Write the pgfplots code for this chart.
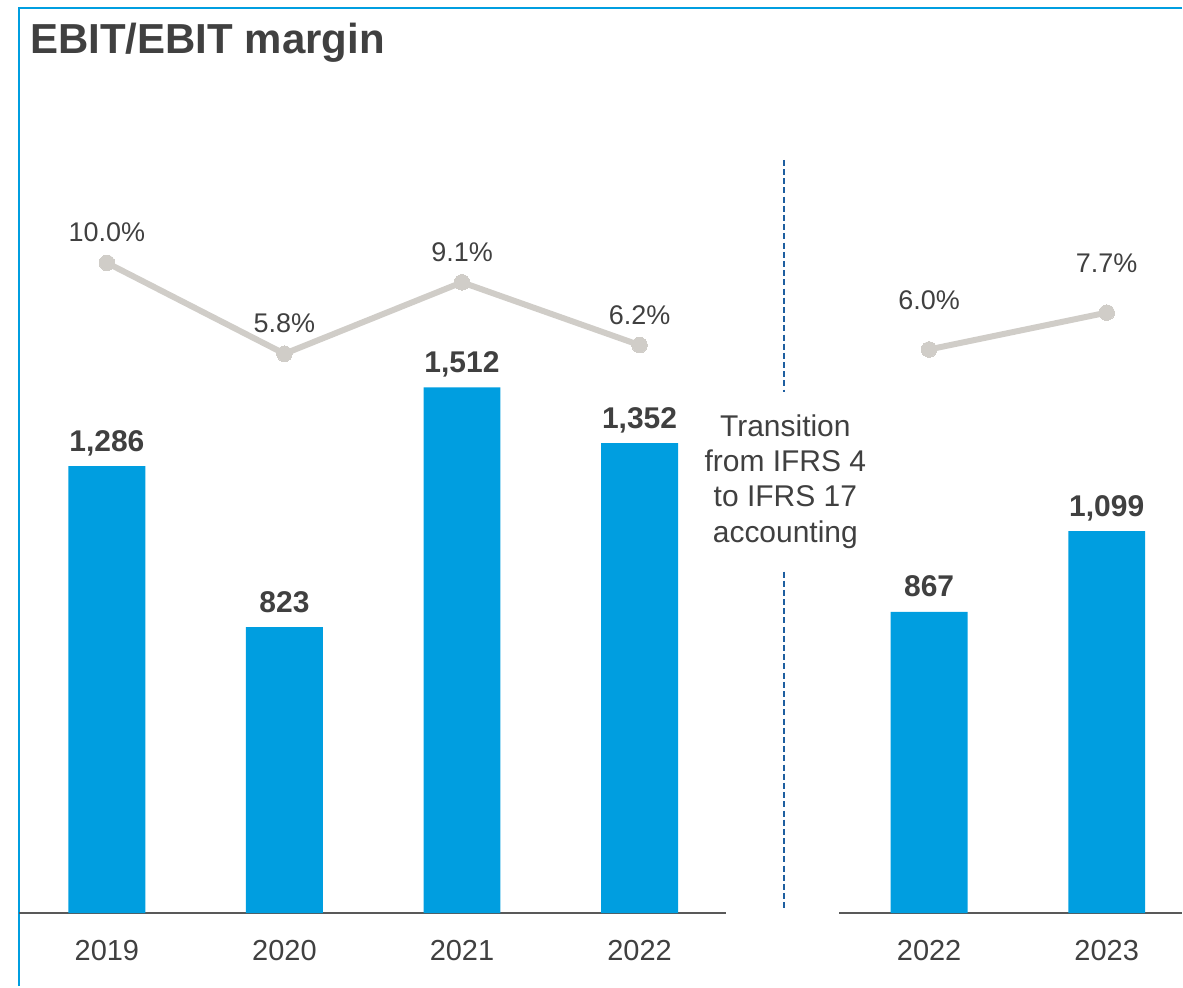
\documentclass[border=0pt]{standalone}
\usepackage{pgfplots}
\pgfplotsset{compat=1.18}
\usepackage{fontspec}
\setmainfont{Liberation Sans}
\definecolor{ebitblue}{RGB}{0,158,224}
\definecolor{linegray}{RGB}{208,205,200}
\definecolor{textgray}{RGB}{64,64,64}
\definecolor{basegray}{RGB}{89,89,89}
\definecolor{dashblue}{RGB}{30,95,160}
\begin{document}
\begin{tikzpicture}
\path (0,0) rectangle (591.5pt,-493.5pt);
% frame
\draw[ebitblue, line width=1pt] (9.5pt,-493.5pt) -- (9.5pt,-4pt) -- (591.5pt,-4pt);
% title
\node[anchor=base west, inner sep=0pt, text=textgray, font=\fontsize{21}{25}\selectfont\bfseries] at (15pt,-26.8pt) {EBIT/EBIT margin};
% divider
\draw[dashblue, line width=1.1pt, dash pattern=on 3pt off 1.6pt] (392.5pt,-80pt) -- (392.5pt,-196pt);
\draw[dashblue, line width=1.1pt, dash pattern=on 3pt off 1.6pt] (392.5pt,-286pt) -- (392.5pt,-456pt);
\node[align=center, text=textgray, font=\fontsize{15}{17.6}\selectfont] at (393pt,-241pt) {Transition\\from IFRS 4\\to IFRS 17\\accounting};

\pgfplotsset{
  panel/.style={
    scale only axis, anchor=south west, clip=false,
    height=348pt, ymin=0, ymax=2000,
    axis x line=bottom, axis y line=none,
    x axis line style={-, draw=basegray, line width=1pt},
    major tick length=0pt, xtick=data,
    xticklabel style={anchor=base, yshift=-23.8pt, text=textgray, font=\fontsize{14.5}{17}\selectfont},
    ytick=\empty,
  },
  bars/.style={
    ybar, bar width=38.5pt, fill=ebitblue, draw=none,
    nodes near coords={\pgfmathprintnumber[1000 sep={,},assume math mode=true]{\pgfplotspointmeta}},
    every node near coord/.append style={anchor=base, yshift=7.5pt, text=textgray, font=\fontsize{15}{18}\selectfont\bfseries},
  },
  marginaxis/.style={
    scale only axis, anchor=south west, clip=false, hide axis,
    height=348pt, ymin=-20.04, ymax=12.08,
  },
  margins/.style={
    color=linegray, line width=3pt, mark=*, mark size=3.9pt,
    mark options={fill=linegray, draw=linegray, line width=0pt},
    point meta=explicit,
    nodes near coords={\pgfmathprintnumber[fixed,fixed zerofill,precision=1,assume math mode=true]{\pgfplotspointmeta}\%},
    every node near coord/.append style={anchor=base, text=textgray, font=\fontsize{13.5}{16}\selectfont},
  },
}

% left panel
\begin{axis}[panel, at={(9.5pt,-457pt)}, width=354pt, xmin=-0.495, xmax=3.489,
  xticklabels={2019,2020,2021,2022}]
\addplot[bars] coordinates {(0,1286) (1,823) (2,1512) (3,1352)};
\end{axis}
\begin{axis}[marginaxis, at={(9.5pt,-457pt)}, width=354pt, xmin=-0.495, xmax=3.489]
\addplot[margins, every node near coord/.append style={yshift=10.5pt}] coordinates {(0,10.0) [10.0] (1,5.8) [5.8] (2,9.1) [9.1] (3,6.2) [6.2]};
\end{axis}

% right panel
\begin{axis}[panel, at={(420pt,-457pt)}, width=171.5pt, xmin=-0.506, xmax=1.424,
  xticklabels={2022,2023}]
\addplot[bars] coordinates {(0,867) (1,1099)};
\end{axis}
\begin{axis}[marginaxis, at={(420pt,-457pt)}, width=171.5pt, xmin=-0.506, xmax=1.424]
\addplot[margins, every node near coord/.append style={yshift=20pt}] coordinates {(0,6.0) [6.0] (1,7.7) [7.7]};
\end{axis}
\end{tikzpicture}
\end{document}
